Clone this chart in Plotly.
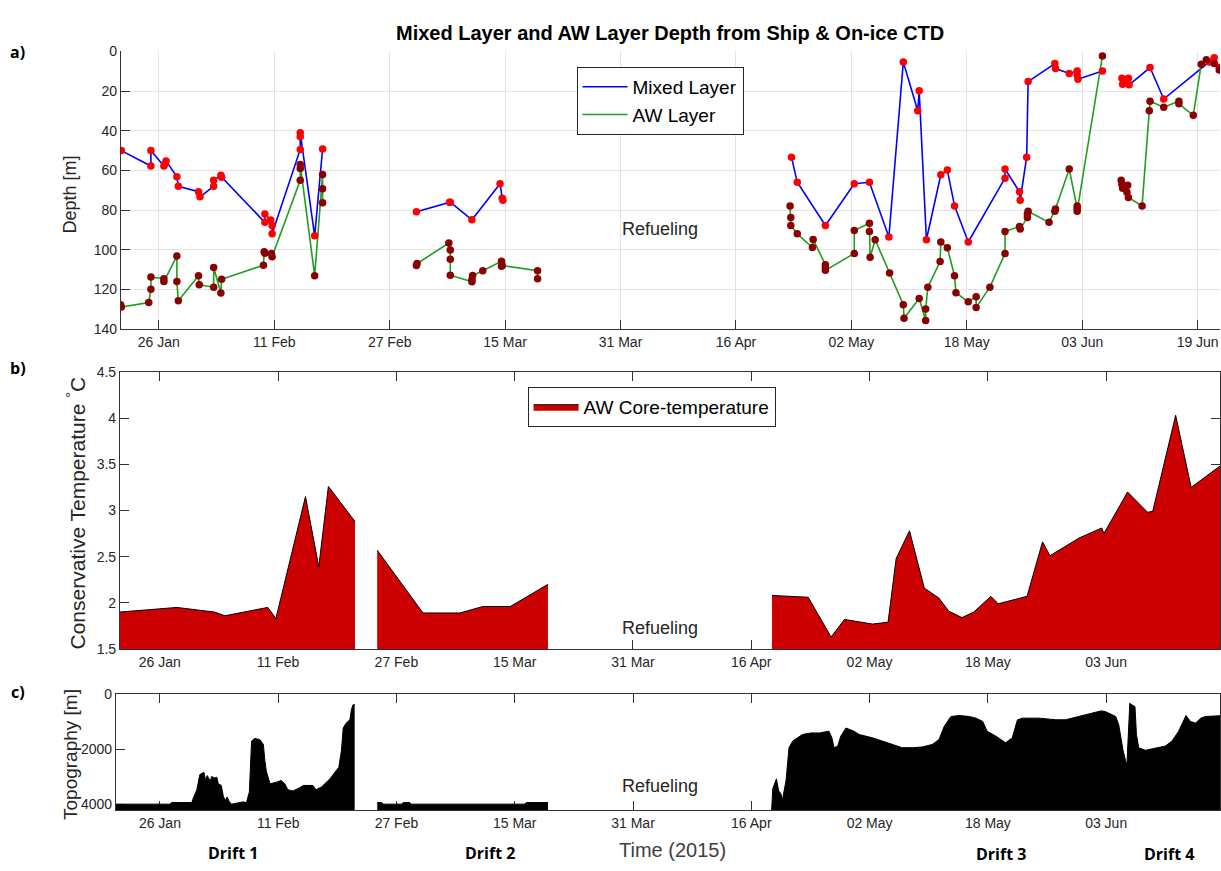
import plotly.graph_objects as go
import pandas as pd

W, H = 1221, 871


def px(x):
    return x / W


def py(y):
    return 1 - y / H


def to_date(days):
    base = pd.Timestamp("2015-01-01")
    return [None if d is None else base + pd.Timedelta(days=d - 1) for d in days]


# ---------------- Panel a: Mixed layer and AW layer depth (day of year 2015) ----------------
ml_day = [20.8, 24.9, 24.9, 26.7, 26.9, 27.0, 28.5, 28.7, 31.5, 31.7, 33.6, 33.6, 34.6, 34.7,
          40.7, 40.7, 41.5, 41.7, 41.7, 45.6, 45.6, 45.6, 47.6, 48.7,
          None,
          61.7, 66.3, 66.4, 69.4, 73.3, 73.6, 73.7,
          None,
          113.7, 114.5, 118.4, 122.4, 124.5, 127.2, 129.2, 131.2, 131.4, 132.4, 134.4, 135.3,
          136.3, 138.2, 143.3, 143.3, 145.3, 145.4, 146.3, 146.5, 150.2, 150.3, 152.2, 153.3,
          153.3, 153.4, 156.8,
          None,
          159.5, 159.6, 160.0, 160.4, 160.5, 163.4, 165.3, 171.6, 172.3, 173.0]
ml_depth = [50, 57.8, 50, 57.8, 56.5, 55.2, 63.2, 68, 70.7, 73.3, 68, 65, 62.4, 63.4,
            86.2, 82, 85, 87.8, 92, 49.4, 43, 41, 93, 49.2,
            None,
            80.9, 76, 76, 84.9, 66.7, 74.1, 75,
            None,
            53.3, 66, 87.8, 66.7, 66, 93.6, 5.3, 29.9, 19.8, 95, 62.2, 59.8,
            77.9, 96.1, 63.9, 59.3, 70.8, 75, 53.3, 15.2, 6.1, 8.6, 11.1, 9.9,
            11.9, 14, 9.9,
            None,
            13.5, 16.5, 15, 13.5, 16.8, 8.1, 24, 5.3, 3.2, 8]

aw_day = [20.7, 20.8, 24.6, 24.9, 24.9, 26.7, 26.7, 28.5, 28.5, 28.7, 31.5, 31.6, 33.6, 33.6,
          34.6, 34.7, 40.5, 40.6, 40.7, 41.6, 41.7, 45.6, 45.6, 45.6, 47.6, 48.7, 48.7, 48.7,
          None,
          61.7, 61.8, 66.2, 66.4, 66.4, 66.4, 69.4, 69.4, 69.5, 70.9, 73.5, 73.5, 73.6, 78.5, 78.5,
          None,
          113.5, 113.6, 113.6, 114.5, 116.6, 116.7, 118.4, 118.4, 118.4, 122.4, 122.4, 124.5,
          124.5, 124.6, 125.3, 127.3, 129.2, 129.3, 131.4, 132.3, 132.3, 132.6, 134.3, 134.4,
          135.3, 136.3, 136.5, 138.2, 139.3, 139.3, 141.2, 143.3, 143.3, 145.3, 145.4, 146.4,
          146.4, 146.5, 149.4, 150.2, 150.3, 152.2, 153.3, 153.3, 153.3, 156.8,
          None,
          159.4, 159.5, 159.6, 160.3, 160.2, 160.4, 162.3, 163.3, 163.4, 165.3, 167.4, 167.4,
          169.4, 170.5, 171.2, 172.3, 173.0]
aw_depth = [127.8, 128.9, 126.6, 120, 113.8, 114.6, 116.1, 103.2, 116, 125.8, 113.1, 117.7, 118.9, 109,
            121.8, 114.9, 107.8, 101, 101.8, 101.9, 103.5, 65, 59, 57, 113.1, 62, 69.2, 76.3,
            None,
            108, 107, 96.6, 100.2, 104.8, 112.9, 116.2, 115, 113, 110.6, 105.8, 108.4, 108, 110.6, 114.7,
            None,
            77.9, 83.7, 87.8, 92, 98.9, 94.8, 107.6, 109, 110.4, 101.9, 90.3, 86.7,
            90.8, 103.8, 95, 111.8, 127.8, 134.6, 124.6, 135.7, 129.9, 118.9, 106, 96.1,
            99, 113.1, 121.7, 126.3, 123.7, 129.1, 118.9, 101.9, 90.8, 88.3, 89.5, 83.8,
            82, 80.6, 86.2, 80.6, 79.4, 59.3, 77.9, 79.3, 80.6, 2.3,
            None,
            65, 67, 69, 67.5, 71, 73.6, 77.9, 29.9, 25.1, 28.1, 25.1, 26.4,
            32.2, 6.4, 4.2, 6.1, 9.4]

# ---------------- Panel b: AW core temperature (three drift segments) ----------------
t1_day = [20.6, 28.3, 33.4, 34.8, 40.6, 41.7, 45.7, 47.5, 48.8, 52.4]
t1_temp = [1.90, 1.95, 1.90, 1.86, 1.95, 1.83, 3.15, 2.39, 3.26, 2.88]
t2_day = [55.4, 61.6, 66.6, 69.7, 73.4, 78.5]
t2_temp = [2.57, 1.89, 1.89, 1.96, 1.96, 2.20]
t3_day = [108.8, 113.7, 116.8, 118.6, 122.4, 124.5, 125.6, 127.4, 129.4, 131.4, 132.7, 134.5,
          136.1, 138.4, 139.4, 143.3, 145.4, 146.4, 150.3, 153.4, 153.7, 156.9, 159.6, 160.3,
          163.4, 165.5, 169.4, 170.0]
t3_temp = [2.08, 2.06, 1.63, 1.82, 1.77, 1.79, 2.48, 2.78, 2.16, 2.05, 1.91, 1.84,
           1.90, 2.07, 1.99, 2.07, 2.66, 2.51, 2.70, 2.81, 2.75, 3.20, 2.98, 2.99,
           4.03, 3.25, 3.48, 3.52]

# ---------------- Panel c: Topography ----------------
z1_day = [20.0, 27.35, 27.6, 30.3, 30.5, 31.0, 31.4, 31.95, 32.2, 32.4, 32.8, 33.0, 33.4, 33.7,
          33.9, 34.3, 34.6, 34.9, 35.1, 35.4, 35.7, 37.3, 37.7, 38.1, 38.4, 38.8, 39.5, 40.0,
          40.2, 40.4, 40.9, 41.3, 41.8, 42.4, 42.9, 43.3, 44.0, 44.9, 45.4, 46.7, 47.1, 47.85,
          48.5, 49.0, 49.9, 50.2, 50.55, 50.8, 51.2, 51.7, 51.9, 52.1, 52.35]
z1_depth = [3988, 3988, 3929, 3929, 3786, 3464, 2917, 2833, 3131, 2952, 3155, 2988, 3036, 3012,
            3250, 3310, 3726, 3845, 3726, 3905, 3988, 3905, 3940, 3548, 1702, 1607, 1643, 1821,
            2417, 2798, 3250, 3226, 3190, 3131, 3250, 3464, 3512, 3393, 3310, 3310, 3464, 3369,
            3190, 3071, 2750, 2655, 2060, 1226, 1048, 929, 571, 393, 369]
z2_day = [55.4, 56.0, 56.2, 58.7, 58.9, 59.8, 60.0, 75.3, 75.6, 78.5]
z2_depth = [3929, 3929, 3988, 3988, 3929, 3929, 3988, 3988, 3929, 3929]
z3_day = [108.75, 108.9, 109.4, 109.7, 110.0, 110.2, 110.7, 111.1, 111.6, 112.3, 112.9, 114.1,
          115.2, 116.5, 116.9, 117.2, 117.7, 118.1, 118.8, 119.9, 120.6, 122.4, 123.7, 125.1,
          126.4, 127.8, 129.1, 130.5, 131.4, 132.1, 133.0, 134.1, 135.5, 136.4, 137.3, 137.9,
          139.1, 140.4, 141.3, 142.0, 142.7, 144.9, 147.2, 148.5, 149.4, 150.8, 152.1, 153.3,
          153.9, 154.8, 155.3, 155.7, 156.3, 156.8, 157.0, 157.2, 157.5, 157.9, 158.1, 158.4,
          159.3, 160.7, 162.0, 162.9, 163.8, 164.8, 165.4, 166.1, 166.8, 167.4, 169.4, 170.0]
z3_depth = [4200, 3429, 3071, 3500, 3607, 3845, 3131, 1940, 1702, 1583, 1464, 1405,
            1405, 1345, 1583, 1940, 1881, 1524, 1226, 1345, 1464, 1583, 1702, 1821,
            1940, 1940, 1917, 1821, 1643, 1167, 810, 774, 810, 869, 988, 1345,
            1524, 1762, 1583, 929, 869, 869, 929, 929, 869, 774, 690, 607,
            631, 750, 810, 1107, 2060, 2595, 1464, 333, 393, 452, 1464, 1940,
            2036, 1964, 1881, 1702, 1345, 774, 988, 1048, 869, 810, 774, 774]
TOPO_BOTTOM = 4200

tick_days = [26, 42, 58, 74, 90, 106, 122, 138, 154, 170]

AX = "#333333"
TICKFONT = dict(family="Liberation Sans, Arial", size=14, color="#262626")

fig = go.Figure()

# Panel a traces
fig.add_trace(go.Scatter(x=to_date(ml_day), y=ml_depth, mode="lines", name="Mixed Layer",
                         line=dict(color="#0000ff", width=1.6), xaxis="x", yaxis="y",
                         legend="legend"))
fig.add_trace(go.Scatter(x=to_date(aw_day), y=aw_depth, mode="lines", name="AW Layer",
                         line=dict(color="#1f9e1f", width=1.6), xaxis="x", yaxis="y",
                         legend="legend"))
fig.add_trace(go.Scatter(x=to_date(ml_day), y=ml_depth, mode="markers", showlegend=False,
                         marker=dict(color="#ff0000", size=7.5), xaxis="x", yaxis="y"))
fig.add_trace(go.Scatter(x=to_date(aw_day), y=aw_depth, mode="markers", showlegend=False,
                         marker=dict(color="#8b0000", size=7.5), xaxis="x", yaxis="y"))

# Panel b traces
for i, (d, t) in enumerate([(t1_day, t1_temp), (t2_day, t2_temp), (t3_day, t3_temp)]):
    fig.add_trace(go.Scatter(x=to_date(d), y=t, mode="lines", fill="tozeroy",
                             fillcolor="#cc0000", line=dict(color="black", width=1),
                             name="AW Core-temperature", legendgroup="awt",
                             showlegend=(i == 0), legend="legend2", xaxis="x2", yaxis="y2"))

# Panel c traces
for d, z in [(z1_day, z1_depth), (z2_day, z2_depth), (z3_day, z3_depth)]:
    fig.add_trace(go.Scatter(x=to_date(d), y=[TOPO_BOTTOM] * len(d), mode="lines",
                             line=dict(width=0, color="black"), showlegend=False,
                             hoverinfo="skip", xaxis="x3", yaxis="y3"))
    fig.add_trace(go.Scatter(x=to_date(d), y=z, mode="lines", fill="tonexty",
                             fillcolor="black", line=dict(color="black", width=1),
                             showlegend=False, xaxis="x3", yaxis="y3"))

tickvals = to_date(tick_days)
common_x = dict(type="date", tickvals=tickvals, tickformat="%d %b", ticks="inside",
                ticklen=9, tickcolor=AX, tickfont=TICKFONT, showline=True,
                linecolor=AX, linewidth=1, zeroline=False)

fig.update_layout(
    width=W, height=H, margin=dict(l=0, r=0, t=0, b=0),
    paper_bgcolor="white", plot_bgcolor="white",
    xaxis=dict(**common_x, domain=[px(121), px(1221)], anchor="y",
               range=to_date([20.74, 173.1]), showgrid=True, gridcolor="#e3e3e3",
               mirror=False),
    yaxis=dict(domain=[py(327), py(44.3)], anchor="x", range=[140, 0],
               tickvals=[0, 20, 40, 60, 80, 100, 120, 140], ticks="inside", ticklen=9,
               tickcolor=AX, tickfont=TICKFONT, showline=True, linecolor=AX, linewidth=1,
               showgrid=True, gridcolor="#e3e3e3", zeroline=False),
    xaxis2=dict(**common_x, domain=[px(120), 1], anchor="y2",
                range=to_date([20.6, 169.4]), showgrid=False, mirror="ticks",
                layer="below traces"),
    yaxis2=dict(domain=[py(653), py(370.7)], anchor="x2", range=[1.5, 4.5],
                tickvals=[1.5, 2, 2.5, 3, 3.5, 4, 4.5],
                ticktext=["1.5", "2", "2.5", "3", "3.5", "4", "4.5"],
                ticks="inside", ticklen=9, tickcolor=AX, tickfont=TICKFONT,
                showline=True, linecolor=AX, linewidth=1, showgrid=False,
                zeroline=False, mirror="ticks", layer="below traces"),
    xaxis3=dict(**common_x, domain=[px(116), 1], anchor="y3",
                range=to_date([20.05, 169.4]), showgrid=False, mirror="ticks",
                layer="below traces"),
    yaxis3=dict(domain=[py(817), py(699)], anchor="x3", range=[TOPO_BOTTOM, 0],
                tickvals=[0, 2000, 4000], ticks="inside", ticklen=9, tickcolor=AX,
                tickfont=TICKFONT, showline=True, linecolor=AX, linewidth=1,
                showgrid=False, zeroline=False, mirror="ticks", layer="below traces"),
    legend=dict(x=px(577), y=py(60), xanchor="left", yanchor="top", traceorder="normal",
                bordercolor="#262626", borderwidth=1, bgcolor="white", itemwidth=45,
                font=dict(family="Liberation Sans, Arial", size=19, color="black")),
    legend2=dict(x=px(528), y=py(386), xanchor="left", yanchor="top", traceorder="normal",
                 bordercolor="#262626", borderwidth=1, bgcolor="white", itemwidth=45,
                 font=dict(family="Liberation Sans, Arial", size=19, color="black")),
)

ann_font = dict(family="Liberation Sans, Arial", color="#262626")
bold_font = dict(family="Open Sans", color="black")
annotations = [
    dict(x=px(671), y=py(25), text="<b>Mixed Layer and AW Layer Depth from Ship & On-ice CTD</b>",
         font=dict(family="Liberation Sans, Arial", size=20, color="black")),
    dict(x=px(661), y=py(225), text="Refueling", font=dict(**ann_font, size=18)),
    dict(x=px(661), y=py(632), text="Refueling", font=dict(**ann_font, size=18)),
    dict(x=px(661), y=py(793), text="Refueling", font=dict(**ann_font, size=18)),
    dict(x=px(70), y=py(190), text="Depth [m]", textangle=-90, font=dict(**ann_font, size=18)),
    dict(x=px(76), y=py(514), text="Conservative Temperature <sup>°</sup>C", textangle=-90,
         font=dict(**ann_font, size=21)),
    dict(x=px(70), y=py(760), text="Topography [m]", textangle=-90, font=dict(**ann_font, size=19)),
    dict(x=px(673), y=py(858), text="Time (2015)", font=dict(family="Liberation Sans, Arial",
                                                              size=20, color="#404040")),
    dict(x=px(18), y=py(45), text="<b>a)</b>", font=dict(**bold_font, size=16)),
    dict(x=px(18), y=py(367), text="<b>b)</b>", font=dict(**bold_font, size=16)),
    dict(x=px(18), y=py(697), text="<b>c)</b>", font=dict(**bold_font, size=16)),
    dict(x=px(233), y=py(861), text="<b>Drift 1</b>", font=dict(**bold_font, size=16)),
    dict(x=px(490), y=py(861), text="<b>Drift 2</b>", font=dict(**bold_font, size=16)),
    dict(x=px(1002), y=py(862), text="<b>Drift 3</b>", font=dict(**bold_font, size=16)),
    dict(x=px(1170), y=py(862), text="<b>Drift 4</b>", font=dict(**bold_font, size=16)),
]
for a in annotations:
    a.update(xref="paper", yref="paper", showarrow=False, xanchor="center", yanchor="middle")
fig.update_layout(annotations=annotations)

fig.write_html("out.html")
